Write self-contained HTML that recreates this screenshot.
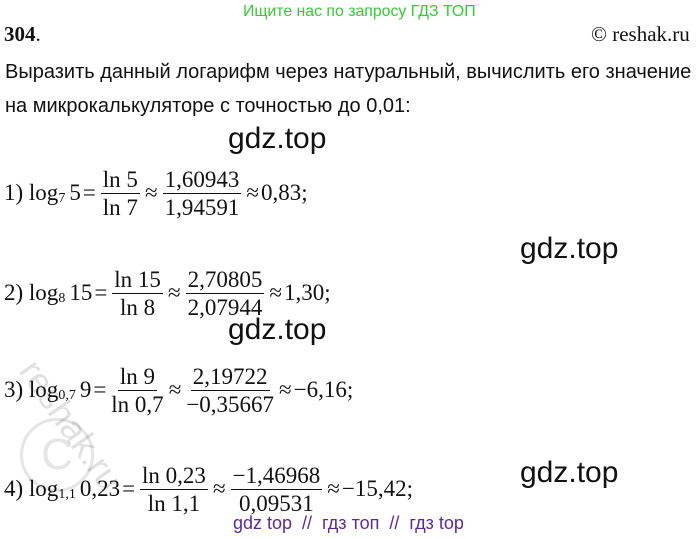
<!DOCTYPE html>
<html><head><meta charset="utf-8"><style>
body{margin:0;width:697px;height:539px;background:#fff;position:relative;overflow:hidden;font-family:"Liberation Serif",serif;color:#111}
.a{position:absolute;white-space:nowrap}
.g{font-family:"Liberation Sans",sans-serif;font-size:30px;color:#111}
.row{position:absolute;left:4px;height:60px;display:flex;align-items:center;font-size:23px;white-space:nowrap}
.fr{display:inline-flex;flex-direction:column;align-items:center;margin:0 3px;line-height:27px}
.fr span:first-child{border-bottom:1.5px solid #111;padding:0 2px}
.op{margin:0 2px}
.sb{font-size:14px;position:relative;top:6px;margin-right:4px}
.t{font-family:"Liberation Sans",sans-serif;font-size:20px}
</style></head><body>
<div class="a" style="left:243px;top:3px;font-family:'Liberation Sans',sans-serif;font-size:16px;color:#33cc33;transform:scaleX(0.99);transform-origin:left">Ищите нас по запросу ГДЗ ТОП</div>
<div class="a" style="left:4px;top:22px;font-size:21px"><b>304</b>.</div>
<div class="a" style="left:591px;top:22px;font-size:21px">© reshak.ru</div>
<div class="a t" style="left:5px;top:61px">Выразить данный логарифм через натуральный, вычислить его значение</div>
<div class="a t" style="left:5px;top:95px">на микрокалькуляторе с точностью до 0,01:</div>
<div class="a g" style="left:228px;top:122px">gdz.top</div>
<div class="a g" style="left:520px;top:232px">gdz.top</div>
<div class="a g" style="left:228px;top:313px">gdz.top</div>
<div class="a g" style="left:520px;top:456px">gdz.top</div>

<div class="row" style="top:163px"><span>1) log</span><span class="sb">7</span><span>5</span><span class="op">=</span><span class="fr"><span>ln 5</span><span>ln 7</span></span><span class="op">≈</span><span class="fr"><span>1,60943</span><span>1,94591</span></span><span class="op">≈</span><span>0,83;</span></div>
<div class="row" style="top:263px"><span>2) log</span><span class="sb">8</span><span>15</span><span class="op">=</span><span class="fr"><span>ln 15</span><span>ln 8</span></span><span class="op">≈</span><span class="fr"><span>2,70805</span><span>2,07944</span></span><span class="op">≈</span><span>1,30;</span></div>
<div class="row" style="top:360px"><span>3) log</span><span class="sb">0,7</span><span>9</span><span class="op">=</span><span class="fr"><span>ln 9</span><span>ln 0,7</span></span><span class="op">≈</span><span class="fr"><span>2,19722</span><span>−0,35667</span></span><span class="op">≈</span><span>−6,16;</span></div>
<div class="row" style="top:459px"><span>4) log</span><span class="sb">1,1</span><span>0,23</span><span class="op">=</span><span class="fr"><span>ln 0,23</span><span>ln 1,1</span></span><span class="op">≈</span><span class="fr"><span>−1,46968</span><span>0,09531</span></span><span class="op">≈</span><span>−15,42;</span></div>

<div class="a" style="left:45px;top:352px;font-family:'Liberation Sans',sans-serif;font-size:36px;color:rgba(0,0,0,0.12);transform:rotate(55deg);transform-origin:left top">reshak.ru</div>
<div class="a" style="left:20px;top:418px;width:68px;height:68px;border:3px solid rgba(0,0,0,0.1);border-radius:50%;text-align:center;line-height:68px;font-family:'Liberation Sans',sans-serif;font-size:44px;color:rgba(0,0,0,0.1)">C</div>

<div class="a" style="left:233px;top:513px;font-family:'Liberation Sans',sans-serif;font-size:18px;color:#5b2a9c">gdz top &nbsp;// &nbsp;гдз топ &nbsp;// &nbsp;гдз top</div>
</body></html>
